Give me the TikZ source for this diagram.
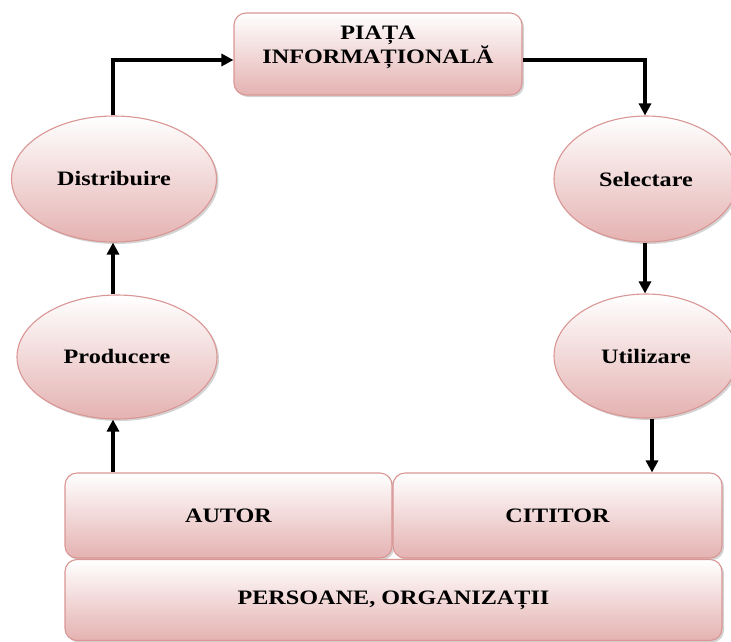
\documentclass[tikz,border=0pt]{standalone}
\usepackage{fontspec}
\setmainfont{Liberation Serif}[FakeStretch=1.18]
\usetikzlibrary{shapes.geometric, shadows, arrows.meta}
\definecolor{pinkedge}{HTML}{D99694}
\definecolor{pinkbottom}{HTML}{E4B2B1}

\begin{document}
\begin{tikzpicture}[x=1pt, y=-1pt,
  pinkfill/.style={draw=pinkedge, line width=1.1pt,
    top color=white, bottom color=pinkbottom,
    drop shadow={shadow xshift=2pt, shadow yshift=-2pt, opacity=.35}},
  roundbox/.style={pinkfill, rectangle, rounded corners=12pt, inner sep=0pt},
  oval/.style={pinkfill, ellipse, inner sep=0pt},
  lbl/.style={font=\bfseries\fontsize{20.5}{22}\selectfont, align=center},
  arr/.style={line width=3.5pt, -{Triangle[length=12pt, width=12pt]}}]
\useasboundingbox (0,0) rectangle (731,641);
\begin{scope}
\clip (0,0) rectangle (731,641);
% boxes
\node[roundbox, minimum width=288, minimum height=82] (piata) at (378,54) {};
\node[lbl] (piatatext) at (378,47) {PIAȚA\\INFORMAȚIONALĂ};
\node[roundbox, minimum width=327, minimum height=85, lbl] (autor) at (228.5,515.5) {AUTOR};
\node[roundbox, minimum width=329, minimum height=85, lbl] (cititor) at (557.5,515.5) {CITITOR};
\node[roundbox, minimum width=657, minimum height=81, lbl] (pers) at (393.5,600) {PERSOANE, ORGANIZAȚII};
% ellipses
\node[oval, minimum width=205, minimum height=126, lbl] (distr) at (114,179) {Distribuire};
\node[oval, minimum width=200, minimum height=124, lbl] (prod) at (117,357) {Producere};
\node[oval, minimum width=184, minimum height=126, lbl] (selec) at (646,179) {Selectare};
\node[oval, minimum width=184, minimum height=124, lbl] (util) at (646,356) {Utilizare};
\end{scope}
% arrows
\draw[arr] ([xshift=-4pt]prod.south |- autor.north) -- ([xshift=-4pt]prod.south);
\draw[arr] ([xshift=-4pt]prod.north) -- ([xshift=-4pt]prod.north |- distr.south);
\draw[arr] ([xshift=-1pt]distr.north) |- ([yshift=-6pt]piata.west);
\draw[arr] ([yshift=-6pt]piata.east) -| ([xshift=-1pt]selec.north);
\draw[arr] ([xshift=-1pt]selec.south) -- ([xshift=-1pt]util.north);
\draw[arr] ([xshift=6pt]util.south) -- ([xshift=6pt]util.south |- cititor.north);
\end{tikzpicture}
\end{document}
